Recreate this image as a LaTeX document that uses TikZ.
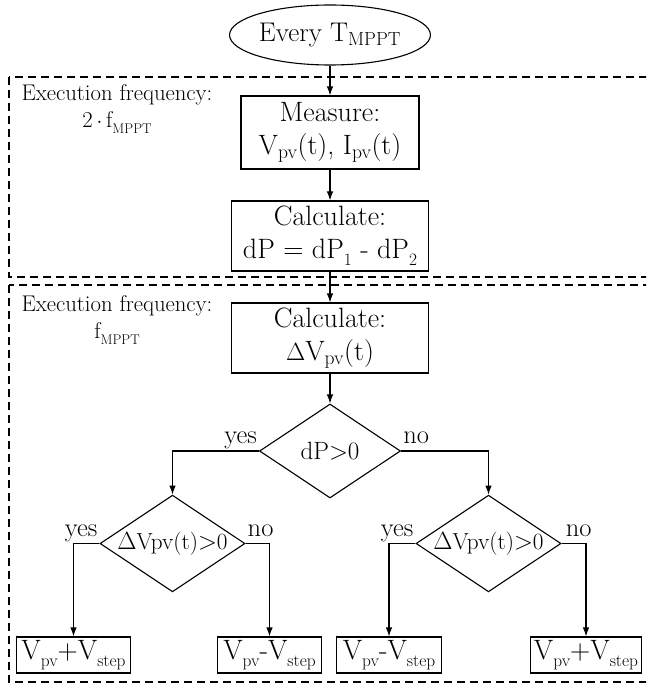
\documentclass[tikz,border=0pt]{standalone}
\usepackage{fontspec}
\usepackage{graphicx}
\usetikzlibrary{shapes.geometric,arrows.meta}
\newcommand\sbs[1]{\raisebox{-0.24em}{\scalebox{0.62}{#1}}}
\tikzset{
  base/.style={line width=1.1pt, inner sep=0pt, align=center},
  bigtxt/.style={font=\fontsize{28}{33}\selectfont},
  procbox/.style={base, draw, rectangle, bigtxt},
  startnode/.style={base, draw, ellipse, font=\fontsize{27}{32}\selectfont, minimum width=185pt, minimum height=60pt},
  decision/.style={base, draw, diamond, aspect=1.5, minimum width=141pt, minimum height=94pt},
  endbox/.style={base, draw, rectangle, font=\fontsize{28}{32}\selectfont, minimum height=36pt, inner xsep=1pt},
  lbl/.style={inner sep=0pt, font=\fontsize{26.5}{30}\selectfont},
  freq/.style={inner sep=0pt, align=center, font=\fontsize{22.7}{27}\selectfont},
  arr/.style={line width=1.1pt, -{Latex[length=9pt,width=6.5pt]}},
  dashbox/.style={line width=1.1pt, dash pattern=on 8pt off 5pt},
}
\begin{document}
\begin{tikzpicture}[x=1pt,y=-1pt]
\useasboundingbox (0,0) rectangle (646,684);
\begin{scope}
  \clip (0,0) rectangle (646,684);
  \draw[dashbox] (9,77) rectangle (700,277);
  \draw[dashbox] (9,285) rectangle (700,682);
\end{scope}

\node[startnode] (start) at (330,35) {Every T\textsubscript{MPPT}};
\node[procbox, minimum width=178pt, minimum height=73pt] (meas) at (330,132.5)
  {Measure:\\ V\textsubscript{pv}(t), I\textsubscript{pv}(t)};
\node[procbox, minimum width=197pt, minimum height=70pt] (calc1) at (330,236)
  {Calculate:\\ dP = dP\sbs{1} - dP\sbs{2}};
\node[procbox, minimum width=197pt, minimum height=70pt] (calc2) at (330,338)
  {Calculate:\\ $\Delta$V\textsubscript{pv}(t)};

\node[freq] (f1) at (117,109) {Execution frequency:\\ 2\,$\cdot$\,f\sbs{MPPT}};
\node[freq] (f2) at (117,320) {Execution frequency:\\ f\sbs{MPPT}};

\node[decision, font=\fontsize{25}{28}\selectfont] (d1) at (330,451) {dP$>$0};
\node[decision, font=\fontsize{23.2}{26}\selectfont] (d2) at (172.5,543.5) {$\Delta$Vpv(t)$>$0};
\node[decision, font=\fontsize{23.2}{26}\selectfont] (d3) at (488.5,543.5) {$\Delta$Vpv(t)$>$0};

\node[endbox, minimum width=114pt] (b1) at (73.5,655) {V\sbs{pv}+V\sbs{step}};
\node[endbox, minimum width=104pt] (b2) at (269.5,655) {V\sbs{pv}-V\sbs{step}};
\node[endbox, minimum width=105pt] (b3) at (389,655) {V\sbs{pv}-V\sbs{step}};
\node[endbox, minimum width=111pt] (b4) at (586,655) {V\sbs{pv}+V\sbs{step}};

\node[lbl, anchor=base east] (y1) at ([xshift=-2pt,yshift=7.5pt]d1.west) {yes};
\node[lbl, anchor=base west] (n1) at ([xshift=2pt,yshift=7.5pt]d1.east) {no};
\node[lbl, anchor=base east] (y2) at ([xshift=-2pt,yshift=7.5pt]d2.west) {yes};
\node[lbl, anchor=base west] (n2) at ([xshift=2pt,yshift=7.5pt]d2.east) {no};
\node[lbl, anchor=base east] (y3) at ([xshift=-2pt,yshift=7.5pt]d3.west) {yes};
\node[lbl, anchor=base west] (n3) at ([xshift=4pt,yshift=7.5pt]d3.east) {no};

\draw[arr] (start.south) -- (meas.north);
\draw[arr] (meas.south) -- (calc1.north);
\draw[arr] (calc1.south) -- (calc2.north);
\draw[arr] (calc2.south) -- (d1.north);
\draw[arr] (d1.west) -| (d2.north);
\draw[arr] (d1.east) -| (d3.north);
\draw[arr] (d2.west) -| (b1.north);
\draw[arr] (d2.east) -| (b2.north);
\draw[arr] (d3.west) -| (b3.north);
\draw[arr] (d3.east) -| (b4.north);
\end{tikzpicture}
\end{document}
